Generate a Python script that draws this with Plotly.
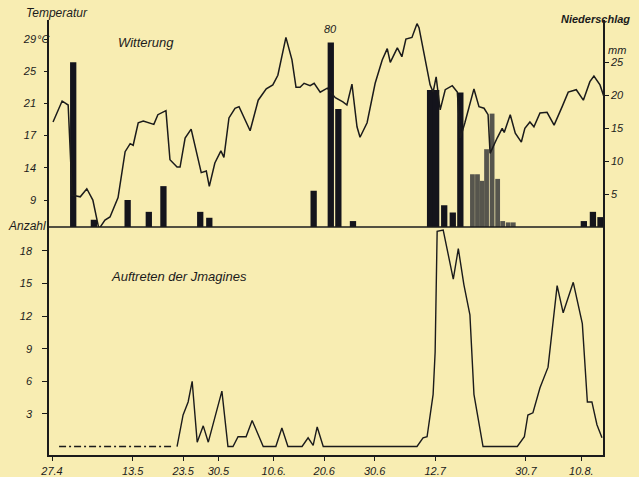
import plotly.graph_objects as go

# ---------------- data ----------------
# x = days after 27 April
tick_days = [0, 16, 26, 33, 44, 54, 64, 76, 94, 105]
tick_labels = ["27.4", "13.5", "23.5", "30.5", "10.6.", "20.6", "30.6", "12.7", "30.7", "10.8."]

# Temperatur (°C)
temp_day = [0.2, 2.0, 3.2, 4.0, 5.6, 6.9, 8.1, 9.3, 10.5, 11.5, 13.1, 14.5, 15.5, 16.1, 17.1, 18.1,
            20.2, 21.0, 22.6, 23.4, 24.8, 25.4, 26.4, 27.6, 29.6, 30.6, 31.2, 32.3, 33.5, 34.1, 35.1,
            36.3, 37.1, 39.3, 40.9, 42.5, 43.8, 44.8, 46.4, 47.6, 48.4, 49.2, 50.0, 51.2, 52.0, 53.2,
            54.6, 56.2, 57.7, 58.5, 59.5, 60.5, 61.1, 62.5, 64.1, 65.5, 66.5, 67.1, 68.5, 69.4, 70.2,
            71.4, 72.4, 72.8, 75.0, 75.6, 76.2, 77.0, 78.0, 79.4, 80.4, 81.0, 81.9, 82.5, 83.7, 84.7,
            85.7, 86.5, 86.9, 88.3, 89.3, 89.7, 90.9, 91.9, 93.1, 93.8, 94.8, 95.6, 96.8, 98.2, 99.6,
            101.2, 102.4, 104.0, 105.4, 106.7, 107.5, 108.7, 109.5]
temp_c = [18.7, 21.3, 20.8, 9.6, 9.4, 10.4, 9.0, 5.4, 6.5, 6.9, 9.3, 15.0, 16.0, 15.8, 18.6, 18.8,
          18.4, 19.6, 20.1, 14.0, 13.1, 13.1, 16.7, 17.8, 12.4, 12.6, 10.7, 13.6, 15.1, 14.3, 19.2,
          20.4, 20.6, 17.6, 21.4, 22.8, 23.3, 24.5, 29.2, 26.4, 23.0, 23.0, 23.5, 23.2, 23.5, 22.4,
          22.9, 21.7, 21.2, 20.8, 23.4, 18.1, 16.8, 18.6, 23.5, 26.4, 27.8, 26.1, 27.9, 26.8, 29.0,
          29.2, 30.9, 30.4, 23.3, 22.4, 24.3, 20.2, 22.7, 23.2, 22.4, 16.7, 18.6, 19.9, 22.8, 20.6,
          20.4, 19.6, 14.8, 16.7, 17.9, 17.4, 19.6, 17.3, 16.2, 17.9, 18.7, 18.1, 19.8, 19.9, 18.3,
          20.6, 22.4, 22.7, 21.4, 23.7, 24.4, 23.3, 21.8]

# Niederschlag (mm) - black bars
rain_day = [4.2, 8.3, 15.0, 19.2, 22.1, 29.4, 31.2, 51.9, 55.3, 56.8, 59.7, 75.0, 76.2, 77.8,
            79.5, 81.0, 105.5, 107.3, 108.8]
rain_mm = [25.0, 1.1, 4.1, 2.3, 6.2, 2.3, 1.4, 5.5, 28.0, 17.9, 0.9, 20.8, 20.8, 3.3,
           2.2, 20.4, 0.9, 2.3, 1.5]
# Niederschlag (mm) - grey bars
grey_day = [83.4, 84.4, 85.3, 86.2, 87.3, 88.4, 89.4, 90.5, 91.5]
grey_mm = [8.0, 8.0, 7.0, 11.8, 17.2, 7.3, 0.9, 0.7, 0.7]
big_label_day = 55.3
big_label = "80"

# Auftreten der Imagines (Anzahl)
imag_dash_day = [1.4, 24.0]
imag_dash_n = [0, 0]
imag_day = [24.8, 26.0, 27.0, 27.8, 28.8, 30.0, 31.0, 33.7, 34.9, 35.9, 36.9, 38.5, 39.7, 41.9,
            44.4, 45.6, 46.8, 49.6, 50.8, 51.8, 52.6, 53.8, 69.0, 72.4, 73.6, 74.4, 75.6, 76.0,
            76.4, 77.6, 79.6, 80.6, 81.7, 82.9, 83.7, 85.5, 92.3, 93.7, 94.4, 95.4, 96.8, 98.4,
            100.2, 101.4, 103.4, 105.2, 106.2, 107.1, 108.1, 109.1]
imag_n = [0, 2.9, 4.1, 6.0, 0.4, 1.9, 0.4, 5.1, 0, 0, 0.9, 0.9, 2.4, 0,
          0, 1.7, 0, 0, 0.8, 0.1, 1.8, 0, 0, 0, 0.8, 0.9, 4.8, 8.7,
          19.8, 19.9, 15.4, 18.2, 14.9, 12.1, 4.8, 0, 0, 0.9, 2.9, 3.1, 5.4, 7.3,
          14.8, 12.3, 15.1, 11.3, 4.1, 4.1, 2.0, 0.8]

temp_ticks = [9, 13, 17, 21, 25, 29]
temp_ticktext = ["9", "14", "17", "21", "25", "29"]
rain_ticks = [5, 10, 15, 20, 25]
imag_ticks = [3, 6, 9, 12, 15, 18]

# ---------------- style ----------------
BG = "#f8edb2"
INK = "#1b1b1b"
BAR = "#14141c"
GREY = "#56554d"
FONT = "Liberation Sans"

W, H = 639, 477
ML, MR, MT, MB = 49, 36, 20, 22
PW, PH = W - ML - MR, H - MT - MB
SPLIT = (455 - 227) / PH


def px(xp):
    return (xp - ML) / PW


def py(yp):
    return (H - MB - yp) / PH


def it(s):
    return "<i>" + s + "</i>"


fig = go.Figure()
fig.add_trace(go.Bar(x=rain_day, y=rain_mm, width=1.25, marker=dict(color=BAR, line=dict(width=0)),
                     xaxis="x", yaxis="y", showlegend=False))
fig.add_trace(go.Bar(x=grey_day, y=grey_mm, width=0.95, marker=dict(color=GREY, line=dict(width=0)),
                     xaxis="x", yaxis="y", showlegend=False))
fig.add_trace(go.Scatter(x=temp_day, y=temp_c, mode="lines", line=dict(color=INK, width=1.5),
                         xaxis="x", yaxis="y2", showlegend=False))
fig.add_trace(go.Scatter(x=imag_dash_day, y=imag_dash_n, mode="lines",
                         line=dict(color=INK, width=1.3, dash="7px,3px,2px,3px"),
                         xaxis="x", yaxis="y3", showlegend=False))
fig.add_trace(go.Scatter(x=imag_day, y=imag_n, mode="lines", line=dict(color=INK, width=1.4),
                         xaxis="x", yaxis="y3", showlegend=False))

tickfont = dict(family=FONT, size=11, color=INK)
common = dict(showgrid=False, zeroline=False, automargin=False, tickfont=tickfont,
              showline=True, linecolor=INK, linewidth=1.5, tickcolor=INK, ticks="outside")
fig.update_layout(
    width=W, height=H, autosize=False,
    margin=dict(l=ML, r=MR, t=MT, b=MB, pad=0, autoexpand=False),
    paper_bgcolor=BG, plot_bgcolor=BG,
    barmode="overlay",
    xaxis=dict(domain=[0, 1], anchor="y3", range=[-0.6, 109.3],
               tickvals=tick_days, ticktext=[it(t) for t in tick_labels],
               ticklen=4, tickwidth=1, ticklabelstandoff=1, **common),
    yaxis=dict(domain=[SPLIT, 1], anchor="x", side="right", range=[0, 31.4],
               tickvals=rain_ticks, ticktext=[it(str(t)) for t in rain_ticks],
               ticklen=4, **common),
    yaxis2=dict(overlaying="y", side="left", anchor="x", range=[5.65, 31.36],
                tickvals=temp_ticks, ticktext=[it(t) for t in temp_ticktext],
                ticklen=3, ticklabelstandoff=6, **common),
    yaxis3=dict(domain=[0, SPLIT], anchor="x", range=[-0.78, 20.19],
                tickvals=imag_ticks, ticktext=[it(str(t)) for t in imag_ticks],
                ticklen=5, ticklabelstandoff=8, mirror=True, **common),
    shapes=[dict(type="line", xref="paper", yref="paper", x0=0, x1=1, y0=SPLIT, y1=SPLIT,
                 line=dict(color=INK, width=1.5))],
)

ann = [
    dict(text=it("Temperatur"), x=px(24), y=py(13), xanchor="left", font_size=12),
    dict(text=it("°C"), x=px(35), y=py(39), xanchor="left", font_size=11),
    dict(text=it("Witterung"), x=px(116), y=py(43), xanchor="left", font_size=13),
    dict(text=it(big_label), x=big_label_day, xref="x", y=py(29), xanchor="center", font_size=11),
    dict(text="<b>" + it("Niederschlag") + "</b>", x=px(559), y=py(19), xanchor="left", font_size=11),
    dict(text=it("mm"), x=px(606), y=py(50), xanchor="left", font_size=11),
    dict(text=it("Anzahl"), x=px(48), y=py(226), xanchor="right", font_size=12),
    dict(text=it("Auftreten der Jmagines"), x=px(109), y=py(277), xanchor="left", font_size=13),
]
for a in ann:
    a.setdefault("xref", "paper")
    a["yref"] = "paper"
    a["yanchor"] = "middle"
    a["showarrow"] = False
    a["font"] = dict(family=FONT, size=a.pop("font_size"), color=INK)
    fig.add_annotation(**a)

fig.write_html(
    "out.html",
    config={"displayModeBar": False, "responsive": False},
    default_width="639px", default_height="477px",
    post_script="document.body.style.margin='0';document.body.style.background='" + BG + "';"
                "document.body.style.overflow='hidden';",
)
